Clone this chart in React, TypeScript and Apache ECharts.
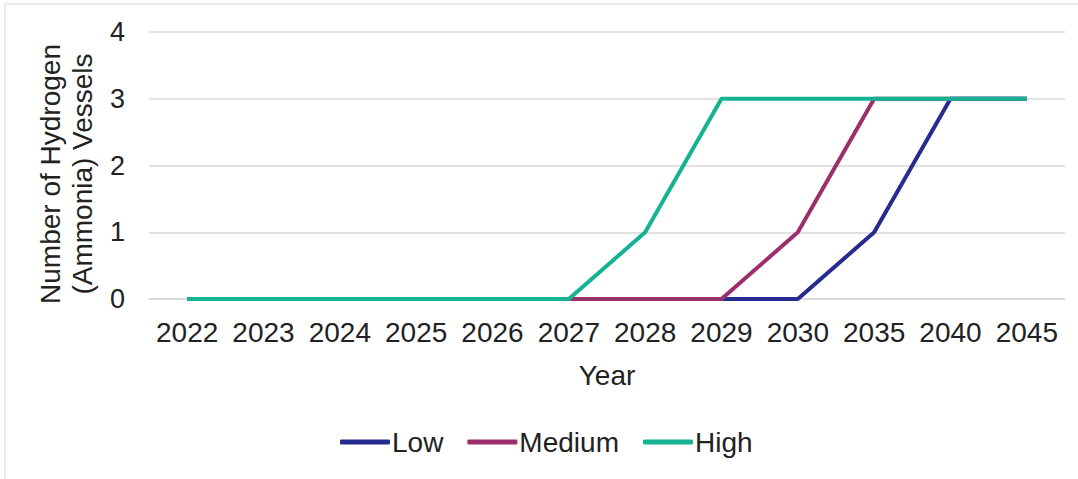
import React, { useEffect, useRef } from "react";
import * as echarts from "echarts";

// Projected number of hydrogen (ammonia) vessels by scenario
const years = ["2022", "2023", "2024", "2025", "2026", "2027", "2028", "2029", "2030", "2035", "2040", "2045"];
const lowValues = [0, 0, 0, 0, 0, 0, 0, 0, 0, 1, 3, 3];
const mediumValues = [0, 0, 0, 0, 0, 0, 0, 0, 1, 3, 3, 3];
const highValues = [0, 0, 0, 0, 0, 0, 1, 3, 3, 3, 3, 3];
const yTicks = [0, 1, 2, 3, 4];

const FONT = "'Liberation Sans', Arial, sans-serif";
const TEXT = "#222222";
const GRID = "#d9d9d9";

export default function App() {
  const ref = useRef<HTMLDivElement>(null);

  useEffect(() => {
    document.body.style.margin = "0";
    if (!ref.current) return;
    const chart = echarts.init(ref.current, undefined, { renderer: "svg" });

    const lineSeries = (name: string, data: number[], color: string) => ({
      name,
      type: "line",
      data,
      symbol: "none",
      color,
      lineStyle: { color, width: 4, join: "round" },
    });

    chart.setOption({
      animation: false,
      backgroundColor: "#ffffff",
      textStyle: { fontFamily: FONT, color: TEXT },
      grid: { left: 149, right: 13, top: 32, bottom: 180 },
      xAxis: {
        type: "category",
        data: years,
        boundaryGap: true,
        axisLine: { show: true, lineStyle: { color: GRID, width: 1.5 } },
        axisTick: { show: false },
        axisLabel: { color: TEXT, fontSize: 28, fontFamily: FONT, margin: 19, interval: 0 },
        name: "Year",
        nameLocation: "middle",
        nameGap: 62,
        nameTextStyle: { color: TEXT, fontSize: 28, fontFamily: FONT, verticalAlign: "top" },
      },
      yAxis: {
        type: "value",
        min: yTicks[0],
        max: yTicks[yTicks.length - 1],
        interval: 1,
        axisLine: { show: false },
        axisTick: { show: false },
        axisLabel: { color: TEXT, fontSize: 27, fontFamily: FONT, margin: 24 },
        splitLine: { lineStyle: { color: GRID, width: 1.5 } },
      },
      legend: {
        left: 335,
        top: 423,
        icon: "roundRect",
        itemWidth: 50,
        itemHeight: 5,
        itemGap: 24,
        textStyle: { color: TEXT, fontSize: 28, fontFamily: FONT, padding: [0, 0, 0, -3] },
        data: ["Low", "Medium", "High"],
      },
      graphic: [
        {
          type: "text",
          x: 66,
          y: 174,
          rotation: Math.PI / 2,
          style: {
            text: "Number of Hydrogen\n(Ammonia) Vessels",
            fontSize: 28,
            fontFamily: FONT,
            fill: TEXT,
            align: "center",
            verticalAlign: "middle",
            lineHeight: 32,
          },
        },
        {
          type: "line",
          shape: { x1: 5, y1: 4, x2: 1078, y2: 4 },
          style: { stroke: "#e3e3e3", lineWidth: 1.5 },
        },
        {
          type: "line",
          shape: { x1: 5, y1: 4, x2: 5, y2: 479 },
          style: { stroke: "#e3e3e3", lineWidth: 1.5 },
        },
      ],
      series: [
        lineSeries("Low", lowValues, "#262c8f"),
        lineSeries("Medium", mediumValues, "#9c2e6c"),
        lineSeries("High", highValues, "#16b294"),
      ],
    });

    return () => chart.dispose();
  }, []);

  return <div ref={ref} style={{ width: 1078, height: 479 }} />;
}
